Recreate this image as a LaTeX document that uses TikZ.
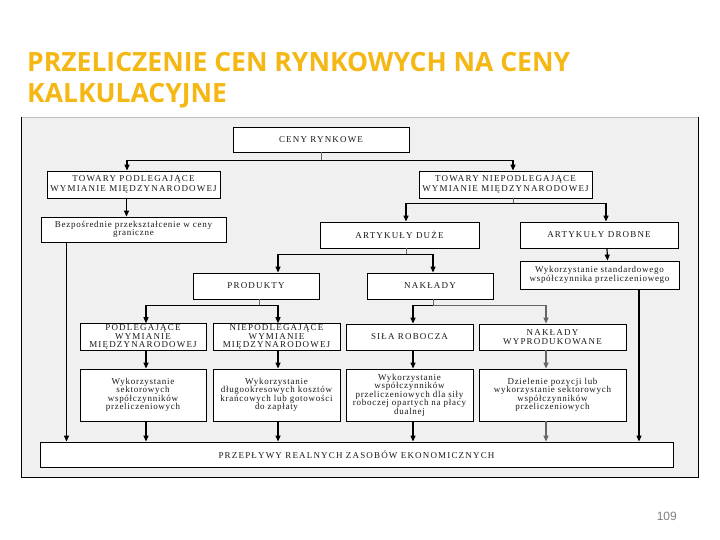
\documentclass[tikz,border=0pt]{standalone}
\usepackage{fontspec}
\usepackage{tikz}
\usetikzlibrary{arrows.meta}
\setmainfont{Liberation Serif}
\newfontfamily\boxfont{Liberation Serif}[LetterSpace=8]
\newfontfamily\capsfont{Liberation Serif}[LetterSpace=13]
\newfontfamily\titlefont{Open Sans}
\newfontfamily\numfont{Liberation Sans}
\definecolor{titleyellow}{RGB}{245,183,20}
\definecolor{panelgray}{RGB}{240,240,240}
\tikzstyle{block} = [rectangle, draw, line width=0.8pt, fill=white, align=center, inner sep=1pt, text=black!90, font=\capsfont\fontsize{9}{8.5}\selectfont]
\tikzstyle{wide} = [block, font=\capsfont\fontsize{9}{10.5}\selectfont]
\tikzstyle{note} = [block, font=\boxfont\fontsize{9}{8.5}\selectfont]
\tikzstyle{arrow} = [line width=1.2pt, -{Triangle[length=6pt,width=5pt]}]
\tikzstyle{stub} = [line width=0.6pt, black!60]

\begin{document}
\begin{tikzpicture}[x=1pt, y=-1pt]
\useasboundingbox (0,0) rectangle (720,540);

% Panel
\fill [panelgray] (21,117) rectangle (698,477);
\draw [black!25] (21,117) -- (698,117);
\draw [line width=0.8pt] (21,117) -- (21,477) -- (698,477) -- (698,117);

% Title
\node (title) [anchor=north west, inner sep=0pt, align=left, text=titleyellow, font=\titlefont\bfseries\fontsize{26.5}{31}\selectfont] at (27,52) {PRZELICZENIE CEN RYNKOWYCH NA CENY\\KALKULACYJNE};

% Nodes
\node (rynkowe) [block, minimum width=176pt, minimum height=25pt] at (321,139.5) {CENY RYNKOWE};
\node (towaryP) [wide, minimum width=173pt, minimum height=27pt] at (133.5,184.5) {TOWARY PODLEGAJĄCE\\WYMIANIE MIĘDZYNARODOWEJ};
\node (towaryN) [wide, minimum width=173pt, minimum height=27pt] at (505.5,184.5) {TOWARY NIEPODLEGAJĄCE\\WYMIANIE MIĘDZYNARODOWEJ};
\node (bezposr) [note, minimum width=185pt, minimum height=25pt] at (133.5,229.5) {Bezpośrednie przekształcenie w ceny\\graniczne};
\node (duze) [block, minimum width=159pt, minimum height=26pt] at (399.5,235) {ARTYKUŁY DUŻE};
\node (drobne) [block, minimum width=158pt, minimum height=26pt] at (599,235) {ARTYKUŁY DROBNE};
\node (standard) [note, minimum width=159pt, minimum height=28pt] at (599.5,275) {Wykorzystanie standardowego\\współczynnika przeliczeniowego};
\node (produkty) [block, minimum width=126pt, minimum height=26pt] at (256,286) {PRODUKTY};
\node (naklady) [block, minimum width=126pt, minimum height=26pt] at (430,286) {NAKŁADY};
\node (podleg) [block, minimum width=126pt, minimum height=26pt] at (143,337) {PODLEGAJĄCE\\WYMIANIE\\MIĘDZYNARODOWEJ};
\node (niepodleg) [block, minimum width=127pt, minimum height=26pt] at (276.5,337) {NIEPODLEGAJĄCE\\WYMIANIE\\MIĘDZYNARODOWEJ};
\node (sila) [block, minimum width=127pt, minimum height=26pt] at (409.5,337) {SIŁA ROBOCZA};
\node (wyprod) [block, minimum width=147pt, minimum height=26pt] at (552.5,337) {NAKŁADY\\WYPRODUKOWANE};
\node (sektor) [note, minimum width=126pt, minimum height=52pt] at (143,395) {Wykorzystanie\\sektorowych\\współczynników\\przeliczeniowych};
\node (dlugo) [note, minimum width=127pt, minimum height=52pt] at (276.5,395) {Wykorzystanie\\długookresowych kosztów\\krańcowych lub gotowości\\do zapłaty};
\node (silaW) [note, minimum width=127pt, minimum height=52pt] at (409.5,395) {Wykorzystanie\\współczynników\\przeliczeniowych dla siły\\roboczej opartych na płacy\\dualnej};
\node (dziel) [note, minimum width=147pt, minimum height=52pt] at (552.5,395) {Dzielenie pozycji lub\\wykorzystanie sektorowych\\współczynników\\przeliczeniowych};
\node (przeplywy) [block, minimum width=633pt, minimum height=25pt] at (356.5,454.5) {PRZEPŁYWY REALNYCH ZASOBÓW EKONOMICZNYCH};

\node (page) [anchor=base east, inner sep=0pt, text=black!50, font=\numfont\fontsize{12}{12}\selectfont] at (677,520) {109};

% Arrows
\draw [stub] (rynkowe.south) -- ++(0,8) coordinate (s1);
\draw [arrow] (s1) -| ([xshift=-6.5pt]towaryP.north);
\draw [arrow] (s1) -| ([xshift=7.5pt]towaryN.north);
\draw [arrow] ([xshift=-7pt]towaryP.south) -- ([xshift=-7pt]bezposr.north);

\draw [stub] ([xshift=7.5pt]towaryN.south) -- ++(0,5) coordinate (s2);
\draw [arrow] (s2) -| ([xshift=6.5pt]duze.north);
\draw [arrow] (s2) -| ([xshift=7pt]drobne.north);
\draw [arrow] ([xshift=8pt]drobne.south) -- ([xshift=8pt]standard.north);

\draw [stub] ([xshift=6.5pt]duze.south) -- ++(0,6) coordinate (s3);
\draw [arrow] (s3) -| ([xshift=22pt]produkty.north);
\draw [arrow] (s3) -| ([xshift=3pt]naklady.north);

\draw [stub] ([xshift=3pt]produkty.south) -- ++(0,6) coordinate (s4);
\draw [arrow] (s4) -| ([xshift=3pt]podleg.north);
\draw [arrow] (s4) -| ([xshift=1.5pt]niepodleg.north);

\draw [stub] ([xshift=3pt]naklady.south) -- ++(0,6) coordinate (s5);
\draw [arrow] (s5) -| ([xshift=3.5pt]sila.north);
\draw [arrow, black!60] (s5) -| ([xshift=-6.5pt]wyprod.north);

\draw [arrow] ([xshift=3pt]podleg.south) -- ([xshift=3pt]sektor.north);
\draw [arrow] ([xshift=1.5pt]niepodleg.south) -- ([xshift=1.5pt]dlugo.north);
\draw [arrow] ([xshift=3.5pt]sila.south) -- ([xshift=3.5pt]silaW.north);
\draw [arrow, black!60] ([xshift=-6.5pt]wyprod.south) -- ([xshift=-6.5pt]dziel.north);

\draw [arrow] ([xshift=3pt]sektor.south) -- ([xshift=3pt]sektor.south |- przeplywy.north);
\draw [arrow] ([xshift=1.5pt]dlugo.south) -- ([xshift=1.5pt]dlugo.south |- przeplywy.north);
\draw [arrow] ([xshift=3.5pt]silaW.south) -- ([xshift=3.5pt]silaW.south |- przeplywy.north);
\draw [arrow, black!60] ([xshift=-6.5pt]dziel.south) -- ([xshift=-6.5pt]dziel.south |- przeplywy.north);

\draw [arrow] ([xshift=-67pt]bezposr.south) -- ([xshift=-67pt]bezposr.south |- przeplywy.north);
\draw [arrow] ([xshift=39.5pt]standard.south) -- ([xshift=39.5pt]standard.south |- przeplywy.north);

\end{tikzpicture}
\end{document}
